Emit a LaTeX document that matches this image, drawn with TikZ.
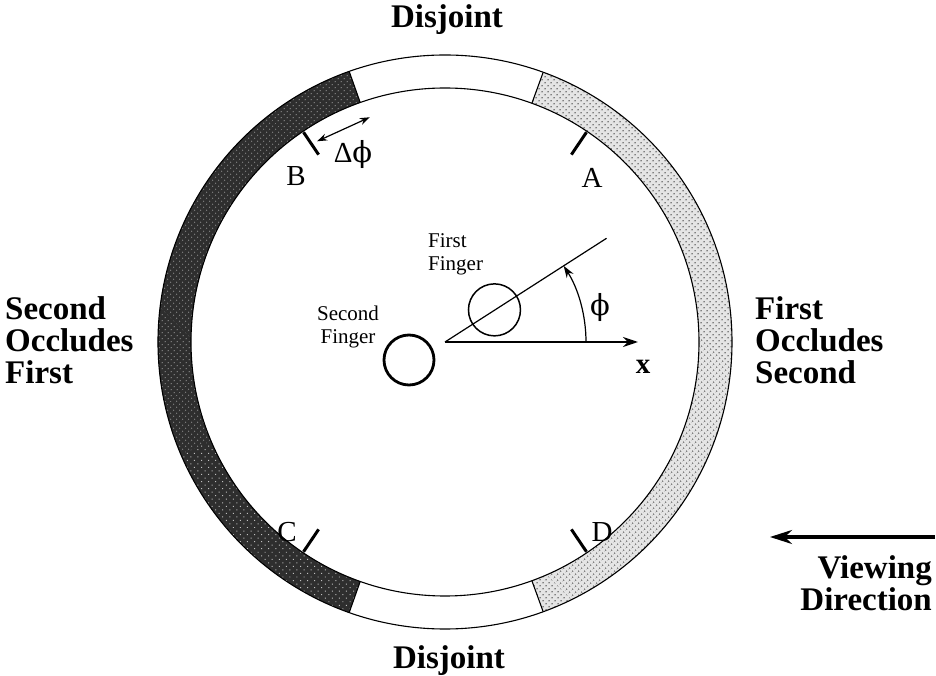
\documentclass[tikz,border=0pt]{standalone}
\usepackage{fontspec}
\setmainfont{Liberation Serif}
\newfontfamily\grk{DejaVu Serif}
\usetikzlibrary{arrows.meta,patterns.meta}
\begin{document}
\begin{tikzpicture}[x=1pt,y=1pt,
  big/.style={font=\fontsize{33}{32}\selectfont\bfseries, inner sep=0pt},
  lbl/.style={font=\fontsize{29}{30}\selectfont, inner sep=0pt},
  small/.style={font=\fontsize{21}{23}\selectfont, inner sep=0pt},
  ringline/.style={line width=1.1pt},
  tickmark/.style={line width=3pt},
  darkfill/.style={fill=black!82},
  darkdots/.style={pattern={Dots[distance=4pt,radius=0.75pt,angle=45]}, pattern color=white!50!black},
  darkerdots/.style={pattern={Dots[distance=5pt,radius=0.7pt,angle=45]}, pattern color=white!75!black},
  lightfill/.style={fill=black!10},
  lightdots/.style={pattern={Dots[distance=4pt,radius=0.95pt,angle=45]}, pattern color=black!50},
]
\useasboundingbox (-445,-334) rectangle (491,342);
\def\Ro{287}
\def\Ri{254}
% light segment (First occludes Second)
\fill[lightfill] (-70:\Ro) arc[start angle=-70,end angle=70,radius=\Ro] -- (70:\Ri) arc[start angle=70,end angle=-70,radius=\Ri] -- cycle;
\fill[lightdots] (-70:\Ro) arc[start angle=-70,end angle=70,radius=\Ro] -- (70:\Ri) arc[start angle=70,end angle=-70,radius=\Ri] -- cycle;
% dark segment (Second occludes First)
\fill[darkfill] (109.5:\Ro) arc[start angle=109.5,end angle=250.5,radius=\Ro] -- (250.5:\Ri) arc[start angle=250.5,end angle=109.5,radius=\Ri] -- cycle;
\fill[darkdots] (109.5:\Ro) arc[start angle=109.5,end angle=203,radius=\Ro] -- (203:\Ri) arc[start angle=203,end angle=109.5,radius=\Ri] -- cycle;
\fill[darkerdots] (203:\Ro) arc[start angle=203,end angle=250.5,radius=\Ro] -- (250.5:\Ri) arc[start angle=250.5,end angle=203,radius=\Ri] -- cycle;
% ring outlines
\draw[ringline] (0,0) circle[radius=\Ro];
\draw[ringline] (0,0) circle[radius=\Ri];
\draw[ringline] (70:\Ri) -- (70:\Ro);
\draw[ringline] (109.5:\Ri) -- (109.5:\Ro);
\draw[ringline] (250.5:\Ri) -- (250.5:\Ro);
\draw[ringline] (-70:\Ri) -- (-70:\Ro);
% tick marks
\draw[tickmark] (56:253) -- (56:226);
\draw[tickmark] (124:253) -- (124:226);
\draw[tickmark] (236:253) -- (236:226);
\draw[tickmark] (304:253) -- (304:226);
\node[lbl] (A) at (147,164) {A};
\node[lbl] (B) at (-149,166) {B};
\node[lbl] (C) at (-158,-190) {C};
\node[lbl] (D) at (157,-190) {D};
% delta phi
\coordinate (dp1) at (122.5:238);
\coordinate (dp2) at (108.5:237);
\draw[line width=1.2pt,{Stealth[length=10pt,width=7pt]}-{Stealth[length=10pt,width=7pt]}] (dp1) -- (dp2);
\node[lbl] (dphi) at (-92,187) {Δ{\grk ϕ}};
% axes
\coordinate (O) at (0,0);
\coordinate (X) at (193,0);
\coordinate (L) at (32.7:192);
\draw[line width=2pt,-{Stealth[length=15pt,width=10pt]}] (O) -- (X);
\draw[line width=1.2pt] (O) -- (L);
\draw[line width=1.2pt,-{Stealth[length=12pt,width=8pt]}] (0:141) arc[start angle=0,end angle=32.7,radius=141];
\node[lbl] (phi) at (155,34) {\grk ϕ};
\node[lbl,font=\fontsize{29}{30}\selectfont\bfseries] (x) at (198,-25) {x};
% fingers
\node[draw,circle,line width=1.5pt,minimum size=52pt,inner sep=0pt] (f1) at (33:59) {};
\node[draw,circle,line width=2.8pt,minimum size=50pt,inner sep=0pt] (f2) at (-36,-18) {};
\node[small,align=left,anchor=west] (t1) at (-17,88) {First\\Finger};
\node[small,align=center] (t2) at (-97,15) {Second\\Finger};
% big labels
\node[big] (dtop) at (2,322) {Disjoint};
\node[big] (dbot) at (4,-319) {Disjoint};
\node[big,align=left,anchor=west] (left) at (-440,2) {Second\\Occludes\\First};
\node[big,align=left,anchor=west] (right) at (310,2) {First\\Occludes\\Second};
\node[big,align=right,anchor=east] (view) at (487,-241) {Viewing\\Direction};
\coordinate (va) at (490,-195);
\coordinate (vb) at (325,-195);
\draw[line width=3pt,-{Stealth[length=22pt,width=14pt]}] (va) -- (vb);
\end{tikzpicture}
\end{document}
